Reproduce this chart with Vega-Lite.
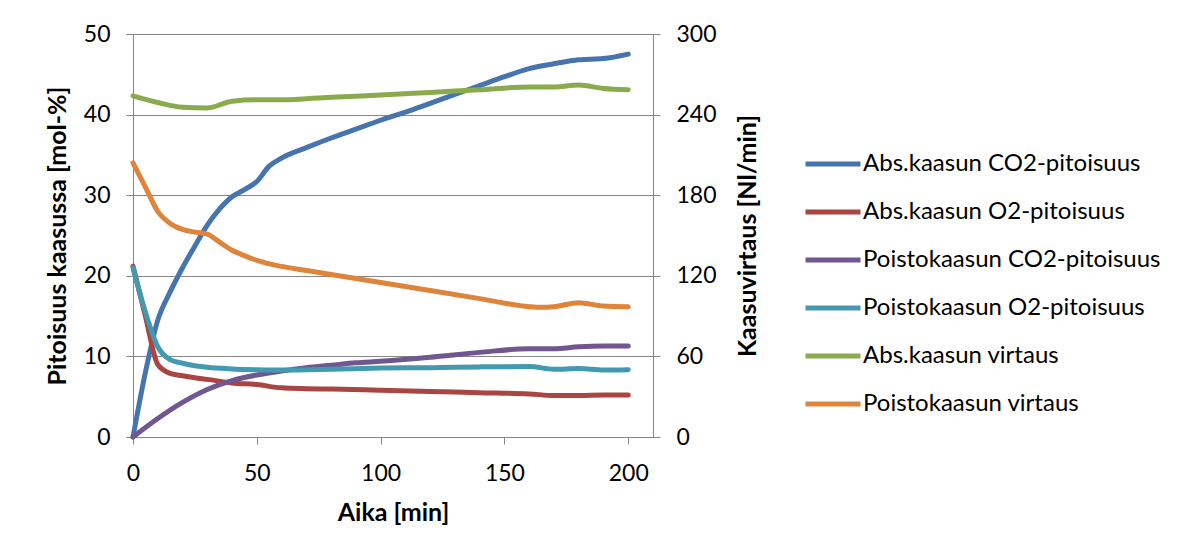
{
  "$schema": "https://vega.github.io/schema/vega-lite/v6.json",
  "width": 520,
  "height": 403,
  "autosize": "none",
  "padding": {"left": 133, "top": 34, "right": 545, "bottom": 119},
  "background": "white",
  "config": {
    "font": "Lato",
    "view": {"stroke": null},
    "axis": {
      "domainColor": "#868686",
      "tickColor": "#868686",
      "gridColor": "#868686",
      "tickSize": 7,
      "labelFont": "Lato",
      "labelFontSize": 23,
      "labelColor": "#000000",
      "titleFont": "Lato",
      "titleFontSize": 25,
      "titleFontWeight": "bold",
      "titleColor": "#000000"
    },
    "legend": {"labelFont": "Lato", "labelFontSize": 24, "labelColor": "#000000", "padding": 0}
  },
  "datasets": {
    "left": [
      {"t": 0, "s": "Abs.kaasun CO2-pitoisuus", "v": 0},
      {"t": 5, "s": "Abs.kaasun CO2-pitoisuus", "v": 8},
      {"t": 10, "s": "Abs.kaasun CO2-pitoisuus", "v": 14.5},
      {"t": 15, "s": "Abs.kaasun CO2-pitoisuus", "v": 18},
      {"t": 20, "s": "Abs.kaasun CO2-pitoisuus", "v": 21},
      {"t": 25, "s": "Abs.kaasun CO2-pitoisuus", "v": 23.7},
      {"t": 30, "s": "Abs.kaasun CO2-pitoisuus", "v": 26.3},
      {"t": 35, "s": "Abs.kaasun CO2-pitoisuus", "v": 28.3},
      {"t": 40, "s": "Abs.kaasun CO2-pitoisuus", "v": 29.8},
      {"t": 45, "s": "Abs.kaasun CO2-pitoisuus", "v": 30.7},
      {"t": 50, "s": "Abs.kaasun CO2-pitoisuus", "v": 31.7},
      {"t": 55, "s": "Abs.kaasun CO2-pitoisuus", "v": 33.6},
      {"t": 60, "s": "Abs.kaasun CO2-pitoisuus", "v": 34.6},
      {"t": 70, "s": "Abs.kaasun CO2-pitoisuus", "v": 35.9},
      {"t": 80, "s": "Abs.kaasun CO2-pitoisuus", "v": 37.1},
      {"t": 90, "s": "Abs.kaasun CO2-pitoisuus", "v": 38.2},
      {"t": 100, "s": "Abs.kaasun CO2-pitoisuus", "v": 39.3},
      {"t": 110, "s": "Abs.kaasun CO2-pitoisuus", "v": 40.3},
      {"t": 120, "s": "Abs.kaasun CO2-pitoisuus", "v": 41.4},
      {"t": 130, "s": "Abs.kaasun CO2-pitoisuus", "v": 42.5},
      {"t": 140, "s": "Abs.kaasun CO2-pitoisuus", "v": 43.6},
      {"t": 150, "s": "Abs.kaasun CO2-pitoisuus", "v": 44.7},
      {"t": 160, "s": "Abs.kaasun CO2-pitoisuus", "v": 45.7},
      {"t": 170, "s": "Abs.kaasun CO2-pitoisuus", "v": 46.3},
      {"t": 180, "s": "Abs.kaasun CO2-pitoisuus", "v": 46.8},
      {"t": 190, "s": "Abs.kaasun CO2-pitoisuus", "v": 46.95},
      {"t": 200, "s": "Abs.kaasun CO2-pitoisuus", "v": 47.5},

      {"t": 0, "s": "Abs.kaasun O2-pitoisuus", "v": 21.2},
      {"t": 5, "s": "Abs.kaasun O2-pitoisuus", "v": 15},
      {"t": 10, "s": "Abs.kaasun O2-pitoisuus", "v": 9},
      {"t": 15, "s": "Abs.kaasun O2-pitoisuus", "v": 7.9},
      {"t": 20, "s": "Abs.kaasun O2-pitoisuus", "v": 7.6},
      {"t": 25, "s": "Abs.kaasun O2-pitoisuus", "v": 7.35},
      {"t": 30, "s": "Abs.kaasun O2-pitoisuus", "v": 7.15},
      {"t": 40, "s": "Abs.kaasun O2-pitoisuus", "v": 6.7},
      {"t": 50, "s": "Abs.kaasun O2-pitoisuus", "v": 6.5},
      {"t": 60, "s": "Abs.kaasun O2-pitoisuus", "v": 6.1},
      {"t": 70, "s": "Abs.kaasun O2-pitoisuus", "v": 6.0},
      {"t": 80, "s": "Abs.kaasun O2-pitoisuus", "v": 5.95},
      {"t": 100, "s": "Abs.kaasun O2-pitoisuus", "v": 5.8},
      {"t": 120, "s": "Abs.kaasun O2-pitoisuus", "v": 5.65},
      {"t": 140, "s": "Abs.kaasun O2-pitoisuus", "v": 5.5},
      {"t": 160, "s": "Abs.kaasun O2-pitoisuus", "v": 5.35},
      {"t": 170, "s": "Abs.kaasun O2-pitoisuus", "v": 5.15},
      {"t": 180, "s": "Abs.kaasun O2-pitoisuus", "v": 5.15},
      {"t": 190, "s": "Abs.kaasun O2-pitoisuus", "v": 5.2},
      {"t": 200, "s": "Abs.kaasun O2-pitoisuus", "v": 5.2},

      {"t": 0, "s": "Poistokaasun CO2-pitoisuus", "v": 0},
      {"t": 10, "s": "Poistokaasun CO2-pitoisuus", "v": 2.3},
      {"t": 20, "s": "Poistokaasun CO2-pitoisuus", "v": 4.3},
      {"t": 30, "s": "Poistokaasun CO2-pitoisuus", "v": 5.9},
      {"t": 40, "s": "Poistokaasun CO2-pitoisuus", "v": 7.0},
      {"t": 50, "s": "Poistokaasun CO2-pitoisuus", "v": 7.7},
      {"t": 60, "s": "Poistokaasun CO2-pitoisuus", "v": 8.2},
      {"t": 70, "s": "Poistokaasun CO2-pitoisuus", "v": 8.6},
      {"t": 80, "s": "Poistokaasun CO2-pitoisuus", "v": 8.9},
      {"t": 90, "s": "Poistokaasun CO2-pitoisuus", "v": 9.2},
      {"t": 100, "s": "Poistokaasun CO2-pitoisuus", "v": 9.4},
      {"t": 120, "s": "Poistokaasun CO2-pitoisuus", "v": 9.9},
      {"t": 140, "s": "Poistokaasun CO2-pitoisuus", "v": 10.5},
      {"t": 160, "s": "Poistokaasun CO2-pitoisuus", "v": 10.95},
      {"t": 170, "s": "Poistokaasun CO2-pitoisuus", "v": 10.95},
      {"t": 180, "s": "Poistokaasun CO2-pitoisuus", "v": 11.2},
      {"t": 190, "s": "Poistokaasun CO2-pitoisuus", "v": 11.3},
      {"t": 200, "s": "Poistokaasun CO2-pitoisuus", "v": 11.3},

      {"t": 0, "s": "Poistokaasun O2-pitoisuus", "v": 21},
      {"t": 5, "s": "Poistokaasun O2-pitoisuus", "v": 15.5},
      {"t": 10, "s": "Poistokaasun O2-pitoisuus", "v": 11.2},
      {"t": 15, "s": "Poistokaasun O2-pitoisuus", "v": 9.6},
      {"t": 20, "s": "Poistokaasun O2-pitoisuus", "v": 9.15},
      {"t": 25, "s": "Poistokaasun O2-pitoisuus", "v": 8.85},
      {"t": 30, "s": "Poistokaasun O2-pitoisuus", "v": 8.65},
      {"t": 40, "s": "Poistokaasun O2-pitoisuus", "v": 8.45},
      {"t": 50, "s": "Poistokaasun O2-pitoisuus", "v": 8.35},
      {"t": 60, "s": "Poistokaasun O2-pitoisuus", "v": 8.3},
      {"t": 80, "s": "Poistokaasun O2-pitoisuus", "v": 8.4},
      {"t": 100, "s": "Poistokaasun O2-pitoisuus", "v": 8.55},
      {"t": 120, "s": "Poistokaasun O2-pitoisuus", "v": 8.6},
      {"t": 140, "s": "Poistokaasun O2-pitoisuus", "v": 8.7},
      {"t": 160, "s": "Poistokaasun O2-pitoisuus", "v": 8.75},
      {"t": 170, "s": "Poistokaasun O2-pitoisuus", "v": 8.4},
      {"t": 180, "s": "Poistokaasun O2-pitoisuus", "v": 8.5},
      {"t": 190, "s": "Poistokaasun O2-pitoisuus", "v": 8.3},
      {"t": 200, "s": "Poistokaasun O2-pitoisuus", "v": 8.35}
    ],
    "right": [
      {"t": 0, "s": "Abs.kaasun virtaus", "v": 254},
      {"t": 10, "s": "Abs.kaasun virtaus", "v": 249},
      {"t": 20, "s": "Abs.kaasun virtaus", "v": 245.5},
      {"t": 30, "s": "Abs.kaasun virtaus", "v": 245},
      {"t": 40, "s": "Abs.kaasun virtaus", "v": 250},
      {"t": 50, "s": "Abs.kaasun virtaus", "v": 251},
      {"t": 60, "s": "Abs.kaasun virtaus", "v": 251},
      {"t": 80, "s": "Abs.kaasun virtaus", "v": 253},
      {"t": 100, "s": "Abs.kaasun virtaus", "v": 254.5},
      {"t": 120, "s": "Abs.kaasun virtaus", "v": 256.5},
      {"t": 140, "s": "Abs.kaasun virtaus", "v": 258.5},
      {"t": 160, "s": "Abs.kaasun virtaus", "v": 260.5},
      {"t": 170, "s": "Abs.kaasun virtaus", "v": 260.5},
      {"t": 180, "s": "Abs.kaasun virtaus", "v": 262},
      {"t": 190, "s": "Abs.kaasun virtaus", "v": 259.5},
      {"t": 200, "s": "Abs.kaasun virtaus", "v": 258.5},

      {"t": 0, "s": "Poistokaasun virtaus", "v": 204},
      {"t": 5, "s": "Poistokaasun virtaus", "v": 186},
      {"t": 10, "s": "Poistokaasun virtaus", "v": 168},
      {"t": 15, "s": "Poistokaasun virtaus", "v": 159},
      {"t": 20, "s": "Poistokaasun virtaus", "v": 154.5},
      {"t": 25, "s": "Poistokaasun virtaus", "v": 152.5},
      {"t": 30, "s": "Poistokaasun virtaus", "v": 151},
      {"t": 35, "s": "Poistokaasun virtaus", "v": 145},
      {"t": 40, "s": "Poistokaasun virtaus", "v": 139},
      {"t": 45, "s": "Poistokaasun virtaus", "v": 135},
      {"t": 50, "s": "Poistokaasun virtaus", "v": 131.5},
      {"t": 60, "s": "Poistokaasun virtaus", "v": 127},
      {"t": 70, "s": "Poistokaasun virtaus", "v": 124},
      {"t": 80, "s": "Poistokaasun virtaus", "v": 121},
      {"t": 100, "s": "Poistokaasun virtaus", "v": 115},
      {"t": 120, "s": "Poistokaasun virtaus", "v": 109},
      {"t": 140, "s": "Poistokaasun virtaus", "v": 103},
      {"t": 160, "s": "Poistokaasun virtaus", "v": 97},
      {"t": 165, "s": "Poistokaasun virtaus", "v": 96.5},
      {"t": 170, "s": "Poistokaasun virtaus", "v": 97},
      {"t": 180, "s": "Poistokaasun virtaus", "v": 100},
      {"t": 190, "s": "Poistokaasun virtaus", "v": 97.5},
      {"t": 200, "s": "Poistokaasun virtaus", "v": 97}
    ]
  },
  "encoding": {
    "x": {
      "field": "t",
      "type": "quantitative",
      "scale": {"domain": [0, 210], "nice": false, "zero": false},
      "axis": {
        "title": "Aika [min]",
        "values": [0, 50, 100, 150, 200],
        "grid": false,
        "labelFlush": false,
        "labelPadding": 18,
        "titlePadding": 15
      }
    },
    "color": {
      "field": "s",
      "type": "nominal",
      "scale": {
        "domain": ["Abs.kaasun CO2-pitoisuus", "Abs.kaasun O2-pitoisuus", "Poistokaasun CO2-pitoisuus", "Poistokaasun O2-pitoisuus", "Abs.kaasun virtaus", "Poistokaasun virtaus"],
        "range": ["#4674AE", "#A94543", "#71578F", "#4299B0", "#8AAB4D", "#DE843B"]
      },
      "legend": {
        "title": null,
        "orient": "none",
        "legendX": 670,
        "legendY": 100,
        "symbolType": "stroke",
        "symbolSize": 3025,
        "symbolStrokeWidth": 5,
        "labelOffset": 0,
        "labelLimit": 0,
        "rowPadding": 6
      }
    }
  },
  "layer": [
    {
      "data": {"name": "left"},
      "mark": {"type": "line", "interpolate": "monotone", "strokeWidth": 5, "strokeCap": "round", "strokeJoin": "round"},
      "encoding": {
        "y": {
          "field": "v",
          "type": "quantitative",
          "scale": {"domain": [0, 50], "nice": false},
          "axis": {
            "title": "Pitoisuus kaasussa [mol-%]",
            "values": [0, 10, 20, 30, 40, 50],
            "grid": true,
            "labelPadding": 16,
            "titlePadding": 13
          }
        }
      }
    },
    {
      "data": {"name": "right"},
      "mark": {"type": "line", "interpolate": "monotone", "strokeWidth": 5, "strokeCap": "round", "strokeJoin": "round"},
      "encoding": {
        "y": {
          "field": "v",
          "type": "quantitative",
          "scale": {"domain": [0, 300], "nice": false},
          "axis": {
            "title": "Kaasuvirtaus [Nl/min]",
            "orient": "right",
            "titleAngle": 270,
            "titleBaseline": "top",
            "values": [0, 60, 120, 180, 240, 300],
            "grid": false,
            "labelPadding": 16,
            "titlePadding": 19
          }
        }
      }
    }
  ],
  "resolve": {"scale": {"y": "independent"}, "axis": {"y": "independent"}}
}
